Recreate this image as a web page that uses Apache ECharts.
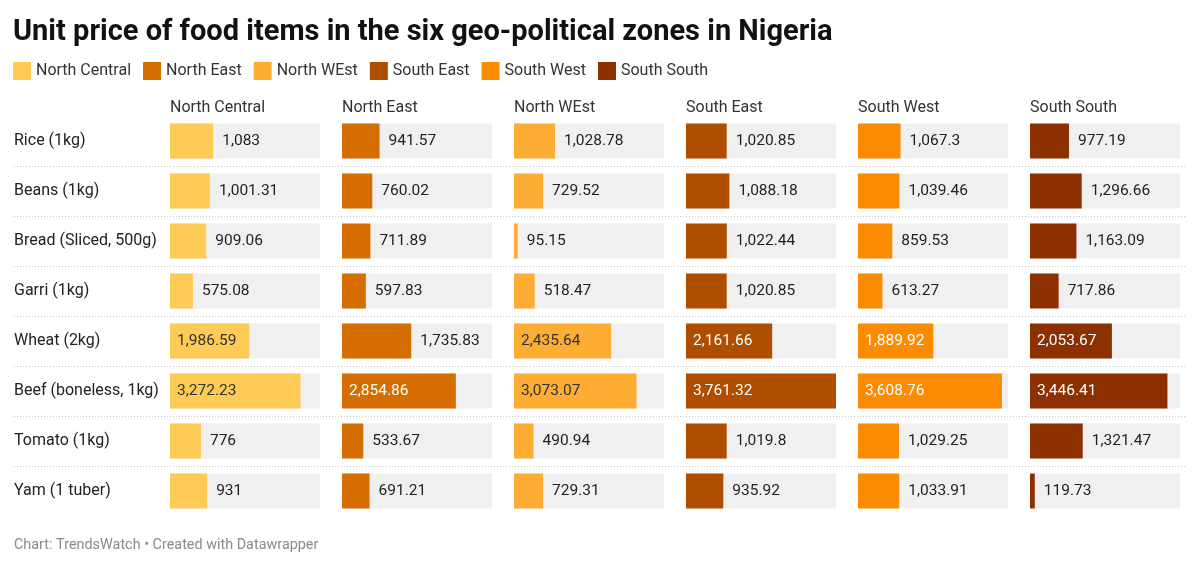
<!DOCTYPE html>
<html>
<head>
<meta charset="utf-8">
<script src="https://cdn.jsdelivr.net/npm/echarts@6/dist/echarts.min.js"></script>
<style>
html,body{margin:0;padding:0;background:#fff;}
#chart{width:1200px;height:567px;}
</style>
</head>
<body>
<div id="chart"></div>
<script>
const items = ['Rice (1kg)', 'Beans (1kg)', 'Bread (Sliced, 500g)', 'Garri (1kg)', 'Wheat (2kg)', 'Beef (boneless, 1kg)', 'Tomato (1kg)', 'Yam (1 tuber)'];
const zones = ['North Central', 'North East', 'North WEst', 'South East', 'South West', 'South South'];
const northCentral = [1083, 1001.31, 909.06, 575.08, 1986.59, 3272.23, 776, 931];
const northEast = [941.57, 760.02, 711.89, 597.83, 1735.83, 2854.86, 533.67, 691.21];
const northWest = [1028.78, 729.52, 95.15, 518.47, 2435.64, 3073.07, 490.94, 729.31];
const southEast = [1020.85, 1088.18, 1022.44, 1020.85, 2161.66, 3761.32, 1019.8, 935.92];
const southWest = [1067.3, 1039.46, 859.53, 613.27, 1889.92, 3608.76, 1029.25, 1033.91];
const southSouth = [977.19, 1296.66, 1163.09, 717.86, 2053.67, 3446.41, 1321.47, 119.73];

const zoneValues = [northCentral, northEast, northWest, southEast, southWest, southSouth];
const zoneColors = ['#fecb57', '#d66d00', '#fdad33', '#b04e00', '#fb8b00', '#8c3000'];
const insideTextColors = ['#333333', '#ffffff', '#333333', '#ffffff', '#ffffff', '#ffffff'];
const FONT = 'Roboto';
const maxVal = Math.max(...zoneValues.flat());
const insideThreshold = 1800;

const fmt = v => v.toLocaleString('en-US', {maximumFractionDigits: 2});

const gridLefts = [170, 342, 514, 686, 858, 1030];
const grids = [], xAxes = [], yAxes = [], series = [], titles = [];

titles.push({
  text: 'Unit price of food items in the six geo-political zones in Nigeria',
  left: 8, top: 13,
  textStyle: {fontFamily: FONT, fontSize: 29, fontWeight: 'bold', color: '#111'}
});
titles.push({
  text: 'Chart: TrendsWatch • Created with Datawrapper',
  left: 9, top: 533,
  textStyle: {fontFamily: FONT, fontSize: 14.4, fontWeight: 'normal', color: '#8a8a8a'}
});

zones.forEach((z, i) => {
  grids.push({left: gridLefts[i], top: 116, width: 150, height: 400});
  xAxes.push({type: 'value', gridIndex: i, min: 0, max: maxVal, show: false});
  yAxes.push({
    type: 'category', gridIndex: i, data: items, inverse: true,
    axisLine: {show: false}, axisTick: {show: false}, splitLine: {show: false},
    axisLabel: i === 0 ? {show: true, align: 'left', margin: 156, fontFamily: FONT, fontSize: 16, color: '#222'} : {show: false}
  });
  titles.push({
    text: z, left: gridLefts[i] - 5, top: 95,
    textStyle: {fontFamily: FONT, fontSize: 16, fontWeight: 'normal', color: '#333'}
  });
  series.push({
    name: z, type: 'bar', xAxisIndex: i, yAxisIndex: i,
    barWidth: 35,
    itemStyle: {color: zoneColors[i]},
    showBackground: true,
    backgroundStyle: {color: '#f0f0f0'},
    silent: true,
    data: zoneValues[i].map(v => {
      const inside = v > insideThreshold;
      return {
        value: v,
        label: {
          show: true,
          position: inside ? 'insideLeft' : 'right',
          distance: inside ? 7 : 9,
          formatter: () => fmt(v),
          fontFamily: FONT, fontSize: 15.5,
          color: inside ? insideTextColors[i] : '#222'
        }
      };
    })
  });
});

// full-width grid for dotted row separators
grids.push({left: 14, top: 116, width: 1172, height: 400});
xAxes.push({type: 'value', gridIndex: 6, show: false, min: 0, max: 1});
yAxes.push({
  type: 'value', gridIndex: 6, min: 0, max: items.length, interval: 1,
  axisLine: {show: false}, axisTick: {show: false}, axisLabel: {show: false},
  splitLine: {show: true, showMinLine: false, showMaxLine: false, lineStyle: {color: '#c8c8c8', type: [1, 2], width: 1}}
});

const chart = echarts.init(document.getElementById('chart'), null, {renderer: 'canvas'});
chart.setOption({
  backgroundColor: '#ffffff',
  animation: false,
  title: titles,
  legend: {
    left: 8, top: 57,
    itemWidth: 18, itemHeight: 18, itemGap: 12,
    icon: 'rect',
    data: zones,
    textStyle: {fontFamily: FONT, fontSize: 16, color: '#333'}
  },
  grid: grids,
  xAxis: xAxes,
  yAxis: yAxes,
  series: series
});
</script>
</body>
</html>
